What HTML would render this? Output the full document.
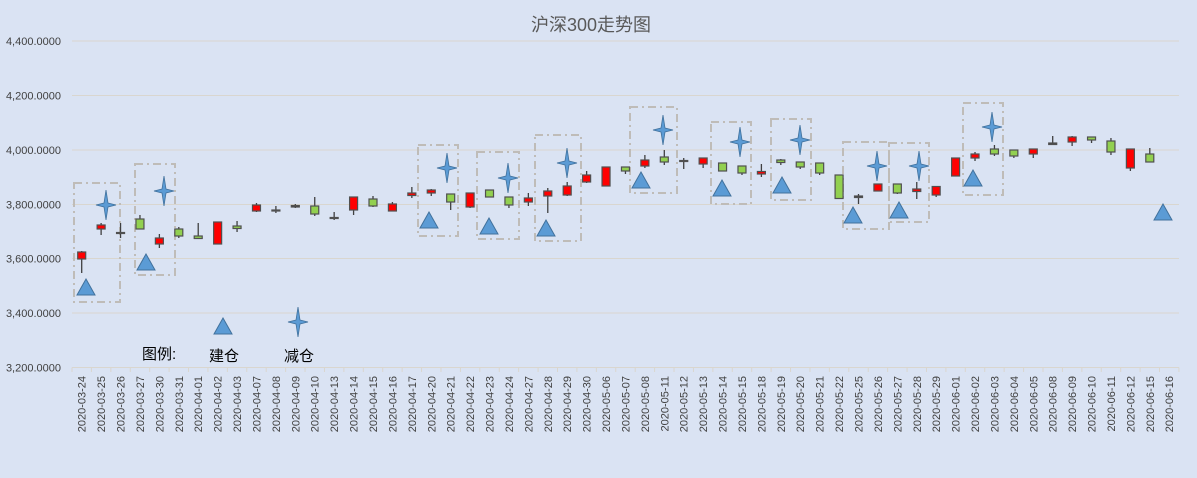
<!DOCTYPE html>
<html><head><meta charset="utf-8"><style>
html,body{margin:0;padding:0;background:#dae3f3;}
svg{display:block;font-family:"Liberation Sans","Noto Sans CJK SC",sans-serif;}
</style></head><body>
<svg id="c" width="1197" height="478" viewBox="0 0 1197 478" xmlns="http://www.w3.org/2000/svg">
<rect width="1197" height="478" fill="#dae3f3"/>
<text x="591" y="31" text-anchor="middle" font-size="18" fill="#595959">沪深300走势图</text>
<g id="grid"></g><g id="boxes"></g><g id="candles"></g><g id="marks"></g><g id="xl"></g>
<text x="142" y="359" font-size="15" fill="#000">图例:</text>
<text x="209" y="361" font-size="15" fill="#000">建仓</text>
<text x="284" y="361" font-size="15" fill="#000">减仓</text>
</svg>
<script>
var NS="http://www.w3.org/2000/svg";
function el(p,t,a,txt){var e=document.createElementNS(NS,t);for(var k in a)e.setAttribute(k,a[k]);if(txt)e.textContent=txt;document.getElementById(p).appendChild(e);return e;}
var ys=[[4400,41],[4200,95.5],[4000,150],[3800,204.5],[3600,258.5],[3400,313],[3200,367.5]];
ys.forEach(function(v){
 if(v[0]!=3200) el("grid","line",{x1:72,x2:1179,y1:v[1],y2:v[1],stroke:"#d9d6cf","stroke-width":1});
 el("grid","text",{x:61,y:v[1]+4,"text-anchor":"end","font-size":"11",fill:"#404040"},v[0].toLocaleString("en-US")+".0000");
});
el("grid","line",{x1:72,x2:1179,y1:367.5,y2:367.5,stroke:"#d9d6cf","stroke-width":1});
var sp=19.42;
for(var i=0;i<=57;i++){var x=72+i*sp;el("grid","line",{x1:x,x2:x,y1:367.5,y2:372,stroke:"#d9d6cf"});}
var d=["03-24","03-25","03-26","03-27","03-30","03-31","04-01","04-02","04-03","04-07","04-08","04-09","04-10","04-13","04-14","04-15","04-16","04-17","04-20","04-21","04-22","04-23","04-24","04-27","04-28","04-29","04-30","05-06","05-07","05-08","05-11","05-12","05-13","05-14","05-15","05-18","05-19","05-20","05-21","05-22","05-25","05-26","05-27","05-28","05-29","06-01","06-02","06-03","06-04","06-05","06-08","06-09","06-10","06-11","06-12","06-15","06-16"];
d.forEach(function(s,i){var x=81.7+i*sp+4;el("xl","text",{transform:"translate("+x+",376) rotate(-90)","text-anchor":"end","font-size":"11",fill:"#404040"},"2020-"+s);});
var c=[["r",252,259,251,273],["r",225,229,223,235],["x",232.5,233.5,223,238],["g",219,229,215,229],["r",238,244,234,248],["g",229,236,227,238],["g",236,238.5,223,239],["r",222,244,222,244],["g",226,228.5,221,232],["r",205,211,203,212],
["x",210,211,206,213],["x",205.5,207,204,208],["g",206,214,197,216],["x",217.5,218.5,212,220],["r",197,210,197,215],["g",199,206,196,207],["r",204,211,202,211],["r",193,195.5,187,198],["r",190,193,189,196],["g",194,202,194,210],
["r",193,207,193,208],["g",190,197,190,197],["g",197,205,197,208],["r",198,202,193,206],["r",191,196,188,213],["r",186,195,182,196],["r",175,182,171,183],["r",167,186,167,186],["g",167,171,167,174],["r",160,166,155,168],
["g",157,162,150,165],["x",160.5,161.5,158,169],["r",158,164,158,168],["g",163,171,163,171],["g",166,173,166,175],["r",171.5,174,164,177],["g",160,162.5,159,165],["g",162,167,162,169],["g",163,173,163,175],["g",175,198.5,175,198.5],
["x",196,197.5,194,204],["r",184,191,184,191],["g",184,193,184,194],["r",189,191.5,182,199],["r",186.5,195,186.5,197],["r",158,176,158,176],["r",154,158,152,161],["g",149,154,145,156],["g",150,156,150,158],["r",149,154,149,158],
["x",143,144.5,136,144],["r",137,142,136,146],["g",137,140,137,143],["g",141,152,138,155],["r",149,168,149,171],["g",154,162,148,162]];
c.forEach(function(v,i){var x=81.7+i*sp;
 el("candles","line",{x1:x,x2:x,y1:v[3],y2:v[4],stroke:"#404040","stroke-width":1.3});
 var f=v[0]=="r"?"#ff0000":(v[0]=="g"?"#92d050":"#404040");
 el("candles","rect",{x:x-4,y:v[1],width:8,height:Math.max(v[2]-v[1],1),fill:f,stroke:"#505050","stroke-width":1.2});
});
var bx=[[74,183,120,302],[135,164,175,275],[418,145,458,236],[477,152,519,239],[535,135,581,241],[630,107,677,193],[711,122,751,204],[771,119,811,200],[843,142,889,229],[889,143,929,222],[963,103,1003,195]];
bx.forEach(function(b){el("boxes","rect",{x:b[0],y:b[1],width:b[2]-b[0],height:b[3]-b[1],fill:"none",stroke:"#bfbcb8","stroke-width":2,"stroke-dasharray":"8,4,2,4"});});
var tr=[[86,287],[146,262],[429,220],[489,226],[546,228],[641,180],[722,188],[782,185],[853,215],[899,210],[973,178],[1163,212],[223,326]];
tr.forEach(function(t){var x=t[0],y=t[1];el("marks","polygon",{points:(x-9)+","+(y+8)+" "+x+","+(y-8)+" "+(x+9)+","+(y+8),fill:"#5b9bd5",stroke:"#41719c","stroke-width":1});});
var st=[[106,205],[164,191],[447,168],[508,178],[567,163],[663,130],[740,142],[800,140],[877,166],[919,166],[992,127],[298,322]];
st.forEach(function(s){var x=s[0],y=s[1];
 var p=[[x,y-15],[x+2,y-2],[x+10,y],[x+2,y+2],[x,y+15],[x-2,y+2],[x-10,y],[x-2,y-2]].map(function(q){return q.join(",");}).join(" ");
 el("marks","polygon",{points:p,fill:"#5b9bd5",stroke:"#41719c","stroke-width":0.8});});
</script>
</body></html>
